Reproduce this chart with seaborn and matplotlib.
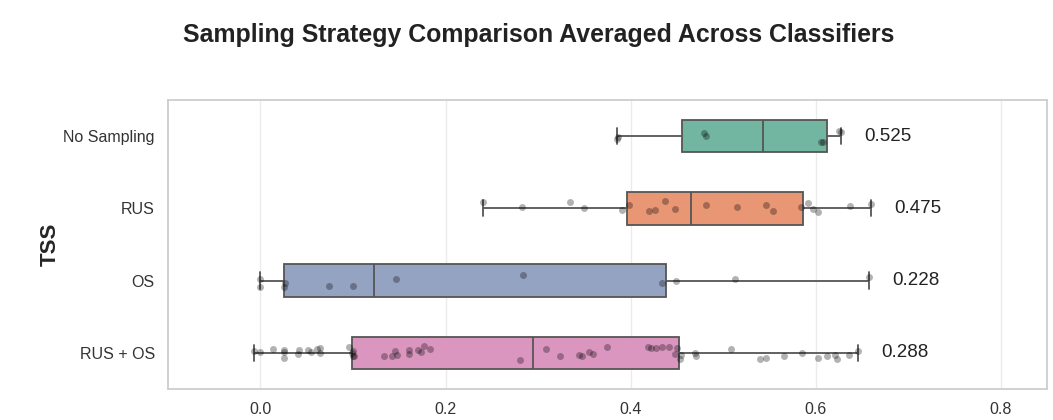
import numpy as np
import pandas as pd
import matplotlib
matplotlib.use("Agg")
import matplotlib.pyplot as plt
import seaborn as sns

# TSS per classifier run
strategies = ["No Sampling", "RUS", "OS", "RUS + OS"]

no_sampling = [0.386, 0.385, 0.479, 0.481, 0.606, 0.608, 0.625, 0.627]
rus = [0.240, 0.283, 0.334, 0.350, 0.391, 0.398, 0.420, 0.426, 0.437, 0.448,
       0.482, 0.515, 0.546, 0.554, 0.584, 0.592, 0.597, 0.602, 0.637, 0.660]
os_only = [0.000, 0.000, 0.025, 0.026, 0.074, 0.100, 0.146, 0.284,
           0.434, 0.449, 0.513, 0.658]
rus_os = [-0.007, 0.000, 0.013, 0.025, 0.025, 0.025, 0.041, 0.042, 0.051, 0.055,
          0.061, 0.064, 0.064, 0.096, 0.099, 0.100, 0.100, 0.101,
          0.133, 0.142, 0.145, 0.147, 0.161, 0.161, 0.170, 0.174, 0.177, 0.183, 0.281,
          0.309, 0.324, 0.344, 0.348, 0.355, 0.359, 0.375, 0.419, 0.422, 0.427,
          0.434, 0.442, 0.448, 0.450, 0.453, 0.454,
          0.470, 0.471, 0.508, 0.540, 0.546, 0.566, 0.585, 0.602, 0.612, 0.621,
          0.623, 0.636, 0.646]

# mean TSS printed next to each row
mean_tss = [0.525, 0.475, 0.228, 0.288]

groups = [no_sampling, rus, os_only, rus_os]
df = pd.DataFrame({
    "Strategy": np.repeat(strategies, [len(g) for g in groups]),
    "TSS": np.concatenate(groups),
})

sns.set_theme(style="whitegrid")
plt.rcParams['font.family'] = ['Liberation Sans', 'DejaVu Sans']
np.random.seed(3)

fig, ax = plt.subplots(figsize=(10.53, 4.2), dpi=100)
fig.subplots_adjust(left=0.1595, right=0.9943, bottom=0.074, top=0.762)

sns.boxplot(data=df, x="TSS", y="Strategy", hue="Strategy", order=strategies,
            hue_order=strategies, palette="Set2", width=0.45, linecolor="#555555",
            linewidth=1.3, showfliers=False, legend=False, ax=ax)
sns.stripplot(data=df, x="TSS", y="Strategy", order=strategies, color="black",
              alpha=0.3, size=5, jitter=0.1, ax=ax)

# mean labels right of the whisker end
for i, s in enumerate(strategies):
    xmax = df.loc[df["Strategy"] == s, "TSS"].max()
    ax.text(xmax + 0.025, i, f"{mean_tss[i]:.3f}", ha="left", va="center",
            fontsize=13.5, color="#222222")

ax.set_xlim(-0.1, 0.85)
ax.set_xticks([0.0, 0.2, 0.4, 0.6, 0.8])
ax.yaxis.grid(False)
ax.xaxis.grid(True, color="#ebebeb")
ax.set_xlabel("")
ax.set_ylabel("TSS", fontsize=16, fontweight="bold", labelpad=2)
ax.tick_params(axis="both", labelsize=11.5, colors="#333333")
for sp in ax.spines.values():
    sp.set_color("#cccccc")

fig.text(0.512, 1 - 42 / 420, "Sampling Strategy Comparison Averaged Across Classifiers",
         fontsize=17.9, fontweight="bold", ha="center", va="baseline", color="#222222")

fig.savefig("out.png", dpi=100)
